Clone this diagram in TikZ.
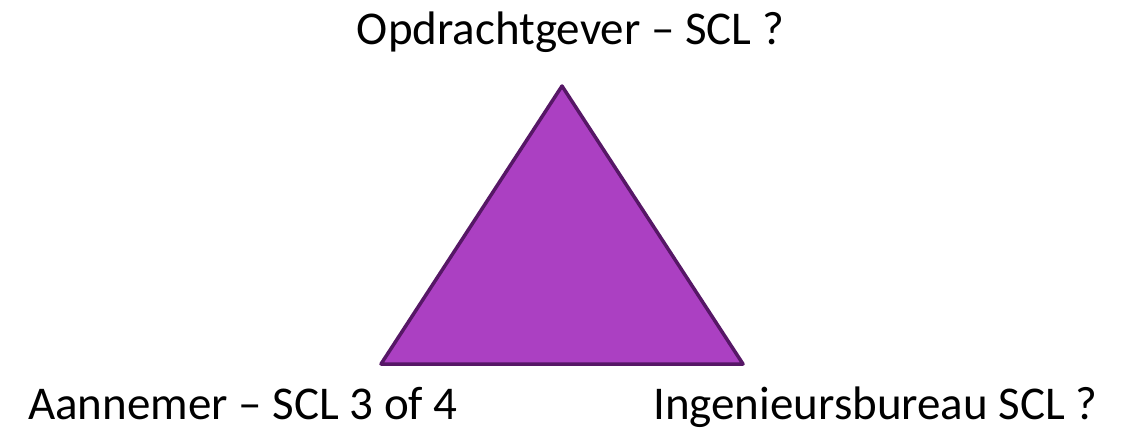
\documentclass[tikz,border=0pt]{standalone}
\usepackage{fontspec}
\setmainfont{Carlito}
\definecolor{trifill}{HTML}{AB40C2}
\definecolor{triline}{HTML}{561766}
\begin{document}
\begin{tikzpicture}[x=1pt,y=1pt,
  lbl/.style={inner sep=0pt,font=\fontsize{47}{56}\selectfont,text=black}]
\useasboundingbox (0,0) rectangle (1138,429);
\coordinate (top) at (562,343);
\coordinate (bl) at (381,65);
\coordinate (br) at (743,65);
\draw[triline,line width=3.5pt,fill=trifill,line join=round] (top) -- (bl) -- (br) -- cycle;
\node[lbl,anchor=base] (opdr) at (570.5,384) {Opdrachtgever – SCL ?};
\node[lbl,anchor=base west] (aann) at (28,10) {Aannemer – SCL 3 of 4};
\node[lbl,anchor=base west] (ing) at (653,10) {Ingenieursbureau SCL ?};
\end{tikzpicture}
\end{document}
